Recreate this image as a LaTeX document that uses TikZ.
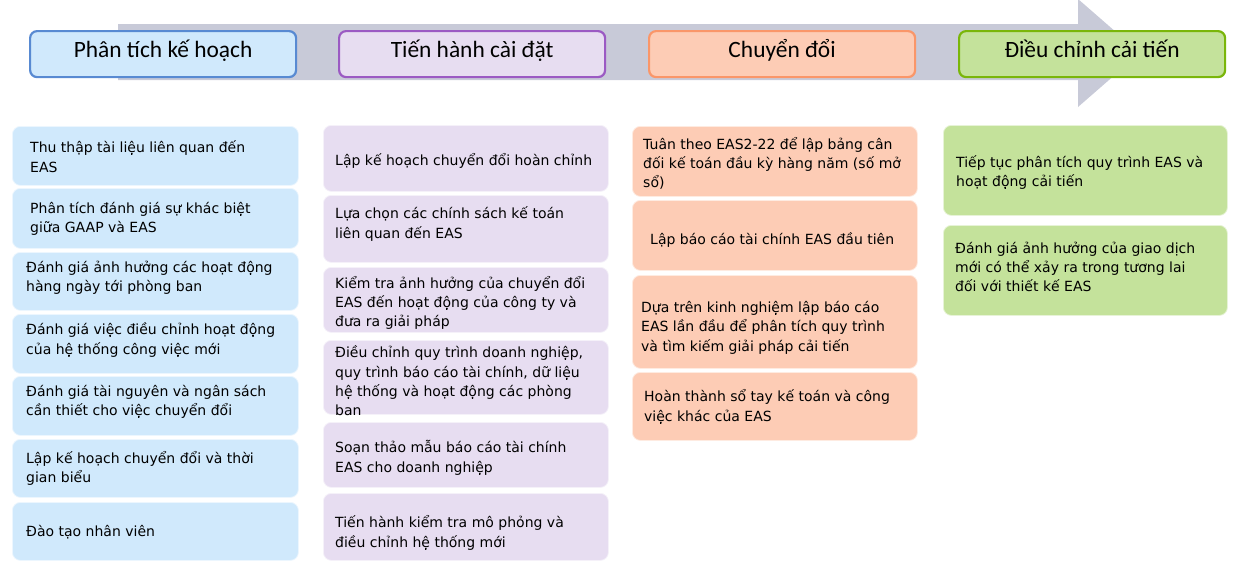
\documentclass[tikz,border=0pt]{standalone}
\usepackage{fontspec}
\setmainfont{DejaVu Sans}
\newfontfamily\hdfont{Carlito}
\newcommand\mystrutx{\rule[-4pt]{0pt}{14pt}}
\definecolor{cA}{RGB}{208,233,252}
\definecolor{cB}{RGB}{231,221,241}
\definecolor{cC}{RGB}{253,204,181}
\definecolor{cD}{RGB}{196,226,155}
\definecolor{bA}{RGB}{88,138,210}
\definecolor{bB}{RGB}{155,90,195}
\definecolor{bC}{RGB}{250,150,105}
\definecolor{bD}{RGB}{122,182,10}
\definecolor{band}{RGB}{200,202,216}
\newcommand\crd[6]{\node[card=#2, minimum width={(#5-#3)*1pt}, minimum height={(#6-#4)*1pt}] (#1) at (#3,#4) {};}
\begin{document}
\begin{tikzpicture}[x=1pt,y=-1pt,
  hdr/.style={draw=#1, line width=2.2pt, rounded corners=7pt, minimum width=266pt, minimum height=46pt,
    anchor=north west, font=\hdfont\fontsize{23.4}{26}\selectfont, text height=12pt, text depth=5pt, inner sep=0pt},
  card/.style={rounded corners=8pt, anchor=north west, inner sep=0pt, draw=#1!40!white, fill=#1, line width=0.8pt},
  txt/.style={anchor=west, align=left, inner sep=0pt, font=\fontsize{14}{19.3}\selectfont,
    execute at begin node=\mystrutx, execute at end node=\mystrutx}]
\useasboundingbox (0,0) rectangle (1237,584);
% arrow band
\fill[band] (118,24) -- (1078,24) -- (1078,-1) -- (1140,53) -- (1078,107) -- (1078,80) -- (118,80) -- cycle;
% headers
\node[hdr=bA, fill=cA] (h1) at (29,30) {Phân tích kế hoạch};
\node[hdr=bB, fill=cB] (h2) at (338,30) {Tiến hành cài đặt};
\node[hdr=bC, fill=cC] (h3) at (648,30) {Chuyển đổi};
\node[hdr=bD, fill=cD] (h4) at (958,30) {Điều chỉnh cải tiến};
% column 1
\crd{a1}{cA}{12}{126}{298}{185}
\crd{a2}{cA}{12}{188}{298}{248}
\crd{a3}{cA}{12}{252}{298}{310}
\crd{a4}{cA}{12}{314}{298}{373}
\crd{a5}{cA}{12}{376}{298}{435}
\crd{a6}{cA}{12}{439}{298}{497}
\crd{a7}{cA}{12}{502}{298}{560}
\node[txt] (ta1) at (30,158.5) {Thu thập tài liệu liên quan đến\\EAS};
\node[txt] (ta2) at (30,219.5) {Phân tích đánh giá sự khác biệt\\giữa GAAP và EAS};
\node[txt] (ta3) at (26,278.5) {Đánh giá ảnh hưởng các hoạt động\\hàng ngày tới phòng ban};
\node[txt] (ta4) at (26,340.5) {Đánh giá việc điều chỉnh hoạt động\\của hệ thống công việc mới};
\node[txt] (ta5) at (26,402.5) {Đánh giá tài nguyên và ngân sách\\cần thiết cho việc chuyển đổi};
\node[txt] (ta6) at (26,469) {Lập kế hoạch chuyển đổi và thời\\gian biểu};
\node[txt] (ta7) at (26,533) {Đào tạo nhân viên};
% column 2
\crd{b1}{cB}{323}{125}{608}{191}
\crd{b2}{cB}{323}{195}{608}{262}
\crd{b3}{cB}{323}{267}{608}{332}
\crd{b4}{cB}{323}{340}{608}{414}
\crd{b5}{cB}{323}{422}{608}{487}
\crd{b6}{cB}{323}{493}{608}{560}
\node[txt] (tb1) at (335,161) {Lập kế hoạch chuyển đổi hoàn chỉnh};
\node[txt] (tb2) at (335,224.5) {Lựa chọn các chính sách kế toán\\liên quan đến EAS};
\node[txt] (tb3) at (335,303.3) {Kiểm tra ảnh hưởng của chuyển đổi\\EAS đến hoạt động của công ty và\\đưa ra giải pháp};
\node[txt] (tb4) at (335,382.8) {Điều chỉnh quy trình doanh nghiệp,\\quy trình báo cáo tài chính, dữ liệu\\hệ thống và hoạt động các phòng\\ban};
\node[txt] (tb5) at (335,458.5) {Soạn thảo mẫu báo cáo tài chính\\EAS cho doanh nghiệp};
\node[txt] (tb6) at (335,533.5) {Tiến hành kiểm tra mô phỏng và\\điều chỉnh hệ thống mới};
% column 3
\crd{c1}{cC}{632}{126}{917}{196}
\crd{c2}{cC}{632}{200}{917}{270}
\crd{c3}{cC}{632}{275}{917}{368}
\crd{c4}{cC}{632}{372}{917}{440}
\node[txt] (tc1) at (643,164.3) {Tuân theo EAS2-22 để lập bảng cân\\đối kế toán đầu kỳ hàng năm (số mở\\sổ)};
\node[txt] (tc2) at (650,241) {Lập báo cáo tài chính EAS đầu tiên};
\node[txt] (tc3) at (641,328.3) {Dựa trên kinh nghiệm lập báo cáo\\EAS lần đầu để phân tích quy trình\\và tìm kiếm giải pháp cải tiến};
\node[txt] (tc4) at (644,407.5) {Hoàn thành sổ tay kế toán và công\\việc khác của EAS};
% column 4
\crd{d1}{cD}{943}{125}{1227}{215}
\crd{d2}{cD}{943}{225}{1227}{315}
\node[txt] (td1) at (956,173) {Tiếp tục phân tích quy trình EAS và\\hoạt động cải tiến};
\node[txt] (td2) at (955,269) {Đánh giá ảnh hưởng của giao dịch\\mới có thể xảy ra trong tương lai\\đối với thiết kế EAS};
\end{tikzpicture}
\end{document}
